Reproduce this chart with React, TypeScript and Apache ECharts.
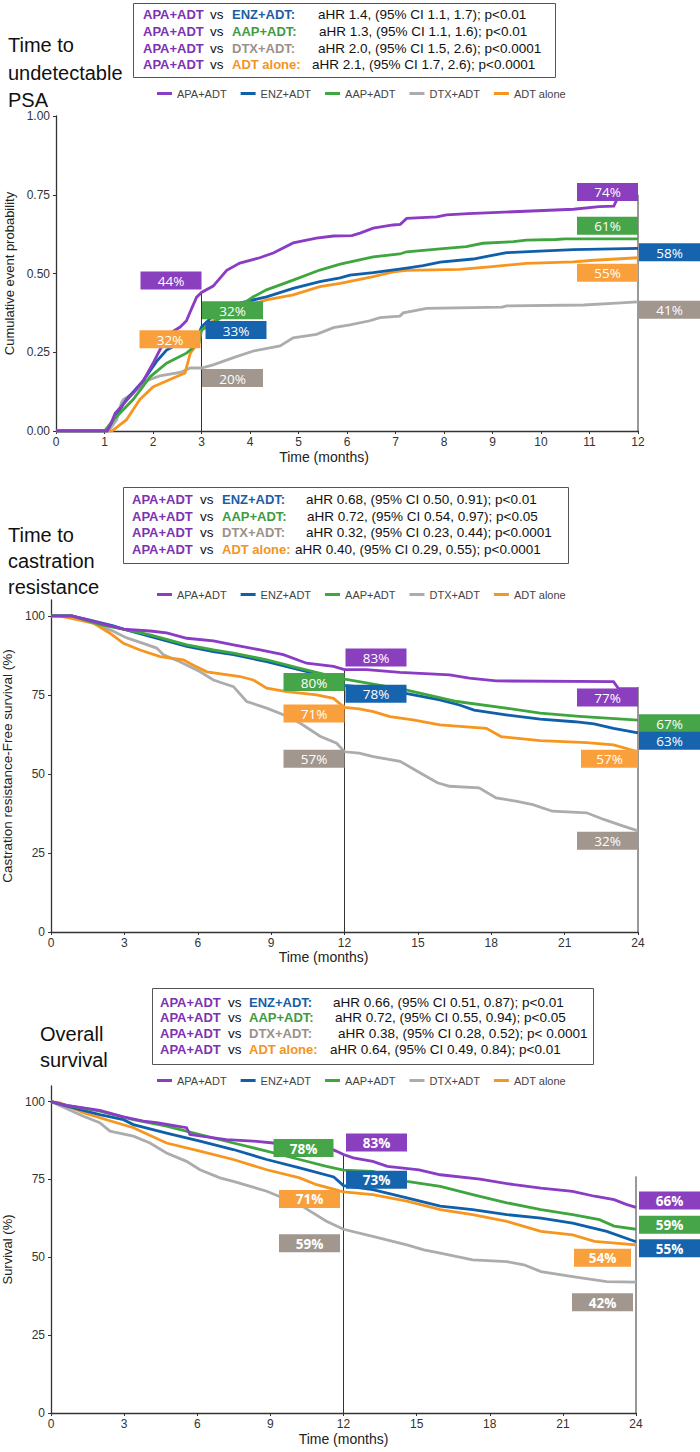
import React, { useEffect, useRef } from 'react';
import * as echarts from 'echarts';

// Treatment arms, in legend order
const ARMS = ['APA+ADT', 'ENZ+ADT', 'AAP+ADT', 'DTX+ADT', 'ADT alone'];
const LINE_COLORS = ['#8a3cc4', '#0f5fab', '#3fa63f', '#acacac', '#f7961f'];
const BOX_COLORS = ['#8a3fbe', '#1664ad', '#46a548', '#a1978f', '#f9a03c'];
const TEXT_COLORS = ['#7d32b4', '#1b5ea6', '#3f9b3f', '#9b918a', '#f3941f'];
const DRAW_ORDER = [3, 4, 1, 2, 0];

// ---- Time to undetectable PSA: cumulative event probability ----
const APA_PSA = [[0, 0], [1.05, 0], [1.12, 0.02], [1.22, 0.056], [1.59, 0.12], [1.8, 0.16], [2.0, 0.215], [2.14, 0.257], [2.35, 0.31], [2.56, 0.33], [2.69, 0.35], [2.8, 0.39], [2.9, 0.425], [3.0, 0.44], [3.24, 0.46], [3.52, 0.51], [3.79, 0.533], [4.2, 0.55], [4.48, 0.565], [4.89, 0.597], [5.37, 0.612], [5.72, 0.619], [6.1, 0.62], [6.27, 0.628], [6.54, 0.644], [6.95, 0.654], [7.1, 0.656], [7.23, 0.675], [7.85, 0.68], [8.05, 0.686], [8.5, 0.69], [9.43, 0.696], [10.67, 0.704], [11.2, 0.712], [11.5, 0.714], [11.56, 0.733], [11.6, 0.74]];
const ENZ_PSA = [[0, 0], [1.05, 0], [1.2, 0.04], [1.45, 0.1], [1.8, 0.16], [2.07, 0.22], [2.28, 0.257], [2.69, 0.29], [2.95, 0.31], [3.0, 0.33], [3.3, 0.375], [3.79, 0.406], [4.34, 0.426], [4.89, 0.453], [5.44, 0.474], [5.86, 0.486], [6.06, 0.495], [6.54, 0.503], [7.23, 0.517], [7.57, 0.525], [7.92, 0.536], [8.6, 0.546], [8.94, 0.556], [9.29, 0.566], [9.97, 0.571], [10.67, 0.576], [12, 0.58]];
const AAP_PSA = [[0, 0], [1.0, 0], [1.18, 0.035], [1.59, 0.1], [1.94, 0.172], [2.28, 0.215], [2.69, 0.247], [2.95, 0.28], [3.0, 0.32], [3.3, 0.35], [3.66, 0.384], [4.07, 0.426], [4.34, 0.448], [4.89, 0.479], [5.44, 0.511], [5.86, 0.53], [6.54, 0.553], [7.09, 0.562], [7.23, 0.569], [7.92, 0.578], [8.46, 0.585], [8.8, 0.596], [9.43, 0.601], [9.7, 0.606], [10.3, 0.608], [10.5, 0.61], [12, 0.61]];
const DTX_PSA = [[0, 0], [1.08, 0], [1.25, 0.035], [1.35, 0.09], [1.39, 0.1], [1.59, 0.12], [1.87, 0.16], [2.14, 0.175], [2.56, 0.186], [2.77, 0.2], [3.0, 0.2], [3.24, 0.21], [3.66, 0.233], [4.07, 0.254], [4.62, 0.27], [4.89, 0.296], [5.37, 0.307], [5.72, 0.328], [6.06, 0.337], [6.47, 0.35], [6.68, 0.36], [7.09, 0.365], [7.16, 0.375], [7.43, 0.383], [7.64, 0.389], [9.2, 0.393], [9.29, 0.397], [10.88, 0.4], [11.56, 0.406], [12, 0.41]];
const ADT_PSA = [[0, 0], [1.15, 0], [1.45, 0.035], [1.73, 0.1], [2.0, 0.14], [2.42, 0.168], [2.66, 0.184], [2.77, 0.247], [2.87, 0.268], [2.97, 0.31], [3.0, 0.32], [3.24, 0.35], [3.66, 0.38], [4.07, 0.403], [4.34, 0.416], [4.89, 0.432], [5.44, 0.458], [5.86, 0.469], [6.54, 0.49], [6.95, 0.505], [7.23, 0.51], [8.33, 0.513], [8.94, 0.521], [9.7, 0.532], [10.67, 0.537], [11.09, 0.542], [12, 0.55]];

// ---- Time to castration resistance: CRPC-free survival (%) ----
const APA_CR = [[0, 100], [0.85, 100], [2.0, 97.7], [2.96, 95.8], [4.05, 95.2], [4.73, 94.6], [5.55, 92.9], [6.64, 92.1], [7.46, 90.8], [8.55, 89.2], [9.5, 87.7], [10.45, 85], [11.55, 84], [12, 83], [12.9, 83], [14.27, 82.1], [16.3, 81.3], [17.1, 80.3], [18.2, 79.4], [23.0, 79.2], [23.2, 77], [24, 77]];
const ENZ_CR = [[0, 100], [0.85, 100], [1.46, 98.9], [2.55, 96.8], [2.96, 95.8], [4.05, 93.5], [5.55, 90.3], [6.64, 88.7], [7.46, 87.7], [8.82, 85.5], [10.18, 82.9], [11.55, 80.3], [12, 78], [13.18, 77.1], [14.5, 75.5], [15.9, 73.4], [16.7, 71.8], [17.3, 70.2], [18.6, 68.7], [20, 67.3], [21.4, 66.5], [22.2, 65.8], [23.0, 64.4], [24, 63]];
const AAP_CR = [[0, 100], [0.85, 100], [2.0, 97.2], [2.96, 95.8], [4.05, 94], [5.55, 90.8], [6.64, 89.2], [7.46, 88.2], [8.82, 86.1], [10.18, 83.4], [11.55, 80.8], [12, 80], [12.6, 79.2], [14.5, 76.6], [16.6, 72.9], [18.6, 70.8], [20, 69.2], [21.6, 68.2], [24, 67]];
const DTX_CR = [[0, 100], [0.85, 100], [1.73, 97.7], [2.55, 95.1], [3.1, 93], [3.77, 91.3], [4.32, 89.8], [4.6, 87.7], [5.27, 85.5], [6.1, 82.3], [6.64, 79.7], [7.46, 77.6], [8.0, 72.9], [8.82, 70.8], [9.5, 68.7], [10.18, 66.1], [11.0, 61.9], [11.68, 59.7], [12, 57], [12.6, 56.6], [13.18, 55.5], [14.27, 54], [15.1, 50.3], [15.8, 47.2], [16.3, 46.1], [17.5, 45.6], [18.2, 42.4], [19, 41.4], [19.7, 40.3], [20.5, 38.2], [21.9, 37.7], [22.6, 35.6], [23.4, 33.5], [24, 32]];
const ADT_CR = [[0, 100], [0.3, 100], [0.78, 99.3], [1.73, 97.7], [2.41, 94.5], [2.96, 91.3], [3.64, 89.2], [4.46, 87.1], [5.41, 86.1], [5.82, 84.4], [6.37, 82.3], [7.73, 80.8], [8.27, 79.7], [8.82, 77.1], [9.64, 76], [10.86, 75], [11.55, 73.9], [12, 71], [12.6, 70.6], [13.18, 69.7], [13.86, 68.1], [14.8, 67.1], [15.9, 65.5], [17.8, 64.4], [18.4, 61.8], [20, 60.5], [21.9, 59.9], [23, 59.2], [24, 57]];

// ---- Overall survival (%) ----
const APA_OS = [[0, 100], [0.64, 98.8], [2.0, 97.2], [2.97, 95.1], [3.79, 93.7], [4.34, 93.2], [5.56, 91.6], [5.7, 89.4], [7.2, 87.8], [8.3, 87.3], [9.12, 86.7], [10.2, 86.2], [11.4, 85.1], [11.7, 84.1], [12, 83], [12.4, 81.9], [13.2, 80.8], [13.8, 79.2], [15.1, 78.1], [15.97, 76.5], [17.6, 75.1], [19, 73.3], [20.1, 72.2], [21.4, 71.2], [22.3, 69.6], [23.1, 68.5], [23.6, 67], [24, 66]];
const ENZ_OS = [[0, 100], [0.64, 98.5], [2.0, 95.8], [2.97, 94.2], [3.38, 92.6], [4.74, 89.9], [6.11, 87.3], [7.48, 84.6], [8.85, 81.4], [10.2, 78.7], [11.6, 75.8], [12, 73], [13.2, 71.7], [14.6, 69.1], [15.97, 66.4], [17.3, 65.3], [18.7, 63.7], [20.1, 62.6], [21.4, 61], [22.8, 58.3], [24, 55]];
const AAP_OS = [[0, 100], [0.64, 98.8], [2.0, 96.9], [3.38, 94.2], [4.74, 92.1], [6.11, 89.4], [7.48, 86.7], [8.85, 84.1], [10.2, 81.4], [11.3, 79.2], [12, 78], [13.2, 77.6], [14.6, 74.4], [15.97, 72.8], [17.3, 70.1], [18.7, 67.5], [20.1, 65.3], [21.4, 63.7], [22.5, 62.1], [23.1, 60], [24, 59]];
const DTX_OS = [[0, 100], [0.1, 99.6], [1.33, 95.3], [2.0, 93.2], [2.42, 90.5], [3.38, 88.9], [4.06, 86.7], [4.74, 83.5], [5.56, 80.8], [6.11, 78.1], [6.93, 75.5], [7.48, 74.4], [8.85, 71.2], [10.2, 66.9], [11.3, 61.6], [12, 59], [13.2, 56.7], [14.6, 54], [15.3, 52.4], [15.97, 51.3], [17.3, 49.2], [18.7, 48.6], [19.4, 47.6], [20.1, 45.4], [21.4, 43.8], [22.8, 42.2], [24, 42]];
const ADT_OS = [[0, 100], [0.37, 99.6], [1.33, 96.4], [2.0, 94.8], [3.38, 91.6], [4.74, 86.7], [6.11, 84.1], [7.48, 81.4], [8.85, 78.1], [10.2, 75.5], [10.9, 73.3], [12, 71], [13.2, 70.1], [14.6, 68], [15.97, 65.3], [17.3, 63.7], [18.7, 61.5], [20.1, 58.3], [21.4, 57.2], [22.3, 55.1], [24, 54]];

// Adjusted hazard ratio statements (APA+ADT vs each comparator)
const COMPARATORS = [1, 2, 3, 4];
const HR_PSA = ['aHR 1.4, (95% CI 1.1, 1.7); p<0.01', 'aHR 1.3, (95% CI 1.1, 1.6); p<0.01', 'aHR 2.0, (95% CI 1.5, 2.6); p<0.0001', 'aHR 2.1, (95% CI 1.7, 2.6); p<0.0001'];
const HR_CR = ['aHR 0.68, (95% CI 0.50, 0.91); p<0.01', 'aHR 0.72, (95% CI 0.54, 0.97); p<0.05', 'aHR 0.32, (95% CI 0.23, 0.44); p<0.0001', 'aHR 0.40, (95% CI 0.29, 0.55); p<0.0001'];
const HR_OS = ['aHR 0.66, (95% CI 0.51, 0.87); p<0.01', 'aHR 0.72, (95% CI 0.55, 0.94); p<0.05', 'aHR 0.38, (95% CI 0.28, 0.52); p< 0.0001', 'aHR 0.64, (95% CI 0.49, 0.84); p<0.01'];

// Tick values
const PSA_X_TICKS = [0, 1, 2, 3, 4, 5, 6, 7, 8, 9, 10, 11, 12];
const PSA_Y_TICKS = [0, 0.25, 0.5, 0.75, 1];
const SURV_X_TICKS = [0, 3, 6, 9, 12, 15, 18, 21, 24];
const SURV_Y_TICKS = [0, 25, 50, 75, 100];

const FONT = '"Liberation Sans", Arial, Helvetica, sans-serif';
const LABEL_FONT = '"Open Sans", "Noto Sans", sans-serif';

// Landmark-estimate tags: arm, landmark month, side of the guide line, pixel nudges
type Tag = { arm: number; t: number; side: 'L' | 'R'; dx: number; dy: number; w?: number };
const PSA_TAGS: Tag[] = [
  { arm: 0, t: 3, side: 'L', dx: 0, dy: -12 },
  { arm: 2, t: 3, side: 'R', dx: 0.5, dy: -20 },
  { arm: 1, t: 3, side: 'R', dx: 4, dy: 3 },
  { arm: 4, t: 3, side: 'L', dx: -1, dy: 9 },
  { arm: 3, t: 3, side: 'R', dx: 0.5, dy: 10 },
  { arm: 0, t: 12, side: 'L', dx: 0, dy: -6 },
  { arm: 2, t: 12, side: 'L', dx: 0, dy: -13 },
  { arm: 1, t: 12, side: 'R', dx: 1, dy: 4 },
  { arm: 4, t: 12, side: 'L', dx: 0, dy: 15 },
  { arm: 3, t: 12, side: 'R', dx: 1, dy: 8 },
];
const CR_TAGS: Tag[] = [
  { arm: 0, t: 12, side: 'R', dx: 1, dy: -12 },
  { arm: 2, t: 12, side: 'L', dx: 0, dy: 3 },
  { arm: 1, t: 12, side: 'R', dx: 1, dy: 8.5 },
  { arm: 4, t: 12, side: 'L', dx: 0, dy: 6 },
  { arm: 3, t: 12, side: 'L', dx: 0, dy: 7 },
  { arm: 0, t: 24, side: 'L', dx: 0, dy: 9 },
  { arm: 2, t: 24, side: 'R', dx: 1, dy: 3 },
  { arm: 1, t: 24, side: 'R', dx: 1, dy: 8 },
  { arm: 4, t: 24, side: 'L', dx: 0, dy: 7, w: 57 },
  { arm: 3, t: 24, side: 'L', dx: 0, dy: 10 },
];
const OS_TAGS: Tag[] = [
  { arm: 2, t: 12, side: 'L', dx: -10, dy: -22, w: 60 },
  { arm: 0, t: 12, side: 'R', dx: 2.5, dy: -12 },
  { arm: 1, t: 12, side: 'R', dx: 2.5, dy: -6 },
  { arm: 4, t: 12, side: 'L', dx: -3.5, dy: 7 },
  { arm: 3, t: 12, side: 'L', dx: -3.5, dy: 14 },
  { arm: 0, t: 24, side: 'R', dx: 3, dy: -7 },
  { arm: 2, t: 24, side: 'R', dx: 3, dy: -4.5 },
  { arm: 1, t: 24, side: 'R', dx: 3, dy: 6.5 },
  { arm: 4, t: 24, side: 'L', dx: -5, dy: 13, w: 57 },
  { arm: 3, t: 24, side: 'L', dx: -3, dy: 20 },
];

type Curve = number[][];
function valueAt(curve: Curve, t: number): number {
  let v = curve[0][1];
  for (const [x, y] of curve) {
    if (x <= t + 1e-9) v = y;
    else break;
  }
  return v;
}

type Panel = {
  curves: Curve[];
  grid: { left: number; top: number; width: number; height: number };
  xMax: number; xStep: number; xTicks: number[];
  yMax: number; yStep: number; yTicks: number[];
  pct: number; decimals: number;
  yName: string; yNameGap: number; yNameSize: number; xNameGap: number; xNamePad: number;
  guides: number[][];
  tags: Tag[];
  boldTags: boolean;
};

const PANELS: Panel[] = [
  {
    curves: [APA_PSA, ENZ_PSA, AAP_PSA, DTX_PSA, ADT_PSA],
    grid: { left: 56, top: 116, width: 582, height: 315 },
    xMax: 12, xStep: 1, xTicks: PSA_X_TICKS,
    yMax: 1, yStep: 0.25, yTicks: PSA_Y_TICKS,
    pct: 100, decimals: 2,
    yName: 'Cumulative event probability', yNameGap: 34, yNameSize: 13, xNameGap: 19, xNamePad: 46,
    guides: [[3, 0.44], [12, 0.75]],
    tags: PSA_TAGS, boldTags: false,
  },
  {
    curves: [APA_CR, ENZ_CR, AAP_CR, DTX_CR, ADT_CR],
    grid: { left: 51, top: 600, width: 587, height: 332 },
    xMax: 24, xStep: 3, xTicks: SURV_X_TICKS,
    yMax: 105, yStep: 25, yTicks: SURV_Y_TICKS,
    pct: 1, decimals: 0,
    yName: 'Castration resistance-Free survival (%)', yNameGap: 31, yNameSize: 13.5, xNameGap: 18, xNamePad: 42,
    guides: [[12, 83], [24, 77.5]],
    tags: CR_TAGS, boldTags: false,
  },
  {
    curves: [APA_OS, ENZ_OS, AAP_OS, DTX_OS, ADT_OS],
    grid: { left: 51, top: 1086, width: 585, height: 327 },
    xMax: 24, xStep: 3, xTicks: SURV_X_TICKS,
    yMax: 105, yStep: 25, yTicks: SURV_Y_TICKS,
    pct: 1, decimals: 0,
    yName: 'Survival (%)', yNameGap: 31, yNameSize: 13, xNameGap: 19, xNamePad: 0,
    guides: [[12, 83], [24, 76]],
    tags: OS_TAGS, boldTags: true,
  },
];

type HrBox = { x: number; y: number; w: number; h: number; apaX: number; vsX: number; cmpX: number; hrX: number[]; rowY: number[]; rows: string[] };
const HR_BOXES: HrBox[] = [
  { x: 133, y: 3, w: 422, h: 74, apaX: 143, vsX: 210, cmpX: 232, hrX: [318, 319, 318, 312], rowY: [14, 31, 48, 64], rows: HR_PSA },
  { x: 123, y: 487, w: 445, h: 76, apaX: 132, vsX: 200, cmpX: 222, hrX: [306, 307, 306, 295], rowY: [499, 516, 532, 549], rows: HR_CR },
  { x: 152, y: 988, w: 441, h: 76, apaX: 160, vsX: 228, cmpX: 249, hrX: [333, 335, 338, 330], rowY: [1002, 1017, 1033, 1049], rows: HR_OS },
];

const TITLES = [
  { x: 8, lines: ['Time to', 'undetectable', 'PSA'], y: [46, 74, 101] },
  { x: 8, lines: ['Time to', 'castration', 'resistance'], y: [536, 562, 588] },
  { x: 40, lines: ['Overall', 'survival'], y: [1035, 1061] },
];
const LEGEND_TOPS = [83, 584, 1070];

function buildOption() {
  const grids: any[] = [];
  const xAxes: any[] = [];
  const yAxes: any[] = [];
  const series: any[] = [];
  const axisColor = '#333';

  PANELS.forEach((p, gi) => {
    grids.push({ ...p.grid, containLabel: false, outerBoundsMode: 'none' });
    xAxes.push({
      type: 'value', gridIndex: gi, min: 0, max: p.xMax, interval: p.xStep,
      name: 'Time (months)', nameLocation: 'middle', nameGap: p.xNameGap,
      nameTextStyle: { fontFamily: FONT, fontSize: 14, color: '#222', padding: [0, p.xNamePad, 0, 0] },
      axisLine: { show: true, onZero: false, lineStyle: { color: axisColor, width: 1.3 } },
      axisTick: { show: true, length: 3, lineStyle: { color: axisColor } },
      axisLabel: { color: '#333', fontSize: 12, fontFamily: FONT, margin: 5, customValues: p.xTicks },
      splitLine: { show: false },
    });
    yAxes.push({
      type: 'value', gridIndex: gi, min: 0, max: p.yMax, interval: p.yStep,
      name: p.yName, nameLocation: 'middle', nameGap: p.yNameGap, nameRotate: 90,
      nameTextStyle: { fontFamily: FONT, fontSize: p.yNameSize, color: '#222' },
      axisLine: { show: true, onZero: false, lineStyle: { color: axisColor, width: 1.3 } },
      axisTick: { show: true, length: 3, lineStyle: { color: axisColor }, customValues: p.yTicks },
      axisLabel: {
        color: '#333', fontSize: 12, fontFamily: FONT, margin: 6, customValues: p.yTicks,
        formatter: (v: number) => (v > p.yTicks[p.yTicks.length - 1] + 1e-9 ? '' : v.toFixed(p.decimals)),
      },
      splitLine: { show: false },
    });

    // landmark guide lines
    p.guides.forEach(([t, top]) => {
      series.push({
        type: 'line', xAxisIndex: gi, yAxisIndex: gi, silent: true, showSymbol: false,
        data: [[t, 0], [t, top]], lineStyle: { color: '#333', width: 1 }, z: 1,
      });
    });

    // KM curves
    DRAW_ORDER.forEach((k) => {
      series.push({
        name: ARMS[k], type: 'line', xAxisIndex: gi, yAxisIndex: gi,
        data: p.curves[k], showSymbol: false, symbol: 'none', color: LINE_COLORS[k],
        itemStyle: { color: LINE_COLORS[k] },
        lineStyle: { color: LINE_COLORS[k], width: 2.8, join: 'miter' }, z: 2,
      });
    });

    // landmark estimate tags
    const tagData = p.tags.map((tg) => [tg.t, valueAt(p.curves[tg.arm], tg.t)]);
    series.push({
      type: 'custom', xAxisIndex: gi, yAxisIndex: gi, clip: false, silent: true, z: 5,
      encode: { x: 0, y: 1 },
      data: tagData,
      renderItem: (params: any, api: any) => {
        const tg = p.tags[params.dataIndex];
        const t = api.value(0);
        const v = api.value(1);
        const pt = api.coord([t, v]);
        const w = tg.w ?? 61;
        const h = 18;
        const x0 = tg.side === 'L' ? pt[0] + tg.dx - w : pt[0] + tg.dx;
        const cy = pt[1] + tg.dy;
        return {
          type: 'group',
          children: [
            { type: 'rect', shape: { x: x0, y: cy - h / 2, width: w, height: h }, style: { fill: BOX_COLORS[tg.arm] } },
            {
              type: 'text',
              style: {
                text: Math.round(v * p.pct) + '%', x: x0 + w / 2, y: cy + 0.5,
                align: 'center', verticalAlign: 'middle', textAlign: 'center', textVerticalAlign: 'middle',
                fill: '#ffffff', fontSize: 13.5, fontFamily: LABEL_FONT, fontWeight: p.boldTags ? 'bold' : 'normal',
              },
            },
          ],
        };
      },
    });
  });

  const graphic: any[] = [];
  TITLES.forEach((tt) => {
    tt.lines.forEach((ln, i) => {
      graphic.push({
        type: 'text', left: tt.x, top: tt.y[i] - 11,
        style: { text: ln, fontSize: 20, fontFamily: FONT, fill: '#111' },
      });
    });
  });
  HR_BOXES.forEach((b) => {
    graphic.push({
      type: 'rect', shape: { x: b.x + 0.5, y: b.y + 0.5, width: b.w, height: b.h },
      style: { fill: '#fff', stroke: '#555', lineWidth: 1 }, z: 10,
    });
    b.rows.forEach((row, i) => {
      const cy = b.rowY[i];
      const cmp = COMPARATORS[i];
      const mk = (text: string, x: number, fill: string, bold: boolean, size: number) => ({
        type: 'text', x, y: cy, z: 11,
        style: { text, fill, fontSize: size, fontFamily: FONT, fontWeight: bold ? 'bold' : 'normal', textVerticalAlign: 'middle', verticalAlign: 'middle' },
      });
      graphic.push(mk(ARMS[0], b.apaX, TEXT_COLORS[0], true, 13));
      graphic.push(mk('vs', b.vsX, '#111', false, 13.5));
      graphic.push(mk(ARMS[cmp] + ':', b.cmpX, TEXT_COLORS[cmp], true, 13));
      graphic.push(mk(row, b.hrX[i], '#111', false, 13.5));
    });
  });

  const legend = LEGEND_TOPS.map((top) => ({
    left: 152, top, data: ARMS, icon: 'rect', itemWidth: 15, itemHeight: 3, itemGap: 14,
    selectedMode: false, textStyle: { fontSize: 11, color: '#444', fontFamily: FONT },
  }));

  return {
    animation: false,
    backgroundColor: '#ffffff',
    grid: grids, xAxis: xAxes, yAxis: yAxes, series, legend, graphic,
  };
}

export default function App() {
  const ref = useRef<HTMLDivElement>(null);
  useEffect(() => {
    if (!ref.current) return;
    const chart = echarts.init(ref.current, undefined, { renderer: 'svg' });
    chart.setOption(buildOption() as any);
    return () => chart.dispose();
  }, []);
  return <div ref={ref} style={{ position: 'absolute', left: 0, top: 0, width: 700, height: 1452 }} />;
}
